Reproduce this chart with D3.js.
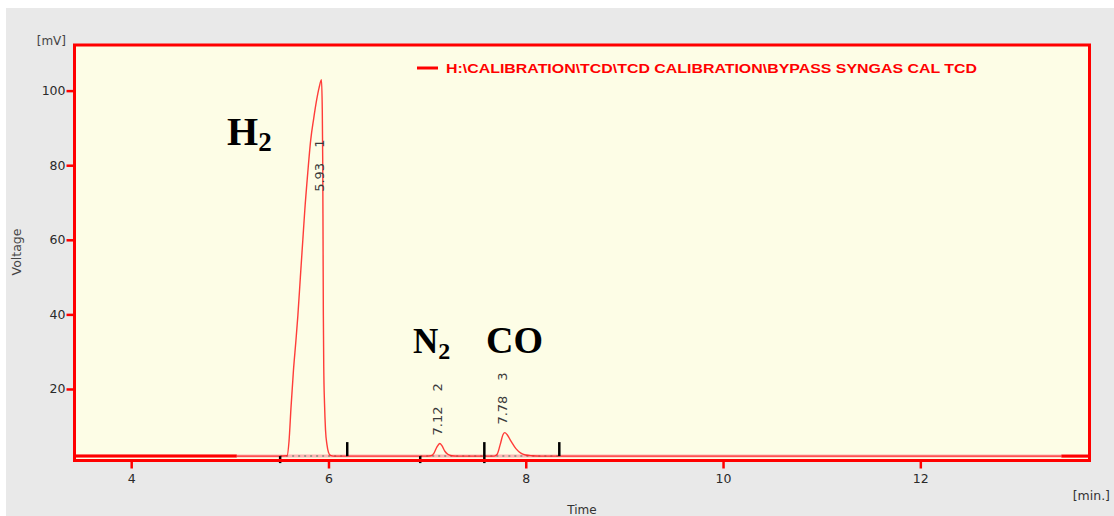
<!DOCTYPE html>
<html>
<head>
<meta charset="utf-8">
<script src="https://cdn.jsdelivr.net/npm/d3@7"></script>
<style>
  body { margin: 0; background: #fff; }
  svg { display: block; }
</style>
</head>
<body>
<div id="chart"></div>
<script>
// axis ticks
const timeTicks = [4, 6, 8, 10, 12];
const voltTicks = [20, 40, 60, 80, 100];

// chromatogram trace (min, mV)
const traceTime = [5.07, 5.5, 5.58, 5.6, 5.62, 5.645, 5.67, 5.69, 5.715, 5.74, 5.76, 5.79, 5.82, 5.85, 5.88, 5.905, 5.929,
  5.937, 5.942, 5.945, 5.948, 5.952, 5.96, 5.97, 5.985, 6.0, 6.02, 6.05, 6.5,
  7.0, 7.04, 7.07, 7.1, 7.129, 7.15, 7.18, 7.21, 7.25, 7.3,
  7.68, 7.71, 7.74, 7.77, 7.788, 7.81, 7.85, 7.9, 7.95, 8.0, 8.06, 8.15, 10, 12, 13.43];
const traceVolt = [2, 2, 2.1, 6, 15, 25, 33, 39.8, 50, 60, 68, 78, 86.8, 92.5, 97.5, 100.8, 102.9,
  95, 80, 60, 40, 26, 16, 9, 5, 3, 2.2, 2, 2,
  2, 2.1, 2.8, 4.5, 5.4, 4.8, 3.3, 2.5, 2.1, 2,
  2, 2.5, 5, 7.8, 8.3, 7.8, 6, 4, 2.8, 2.3, 2.1, 2, 2, 2, 2];

// peak table
const peakNum = [1, 2, 3];
const peakRT = [5.93, 7.12, 7.78];
const peakHeight = [102.9, 5.4, 8.3];
const peakStart = [5.51, 6.93, 7.58];
const peakEnd = [6.19, 7.58, 8.34];
const baseVolt = 2;

// compound names
const compounds = [
  { name: "H", sub: "2" },
  { name: "N", sub: "2" },
  { name: "CO", sub: "" }
];

const legendText = "H:\\CALIBRATION\\TCD\\TCD CALIBRATION\\BYPASS SYNGAS CAL TCD";

const W = 1114, H = 516;
const pLeft = 74.5, pRight = 1089.5, pTop = 45, pBottom = 460.5;

const svg = d3.select("#chart").append("svg")
  .attr("width", W).attr("height", H);

// grey panel
svg.append("rect").attr("x", 6).attr("y", 8).attr("width", W - 6).attr("height", H - 8)
  .attr("fill", "#e9e9e9");

const x = d3.scaleLinear().domain([3.41, 13.71]).range([73, 1089]);
const y = d3.scaleLinear().domain([0.5, 112.5]).range([461.7, 44]);

// plot area
svg.append("rect").attr("x", pLeft).attr("y", pTop)
  .attr("width", pRight - pLeft).attr("height", pBottom - pTop)
  .attr("fill", "#fdfde6");

const font = "'DejaVu Sans', sans-serif";

// axes
const gx = svg.append("g")
  .attr("transform", "translate(0," + pBottom + ")")
  .call(d3.axisBottom(x).tickValues(timeTicks).tickSize(8).tickPadding(6));
const gy = svg.append("g")
  .attr("transform", "translate(" + pLeft + ",0)")
  .call(d3.axisLeft(y).tickValues(voltTicks).tickSize(8).tickPadding(1));
[gx, gy].forEach(g => {
  g.select(".domain").remove();
  g.selectAll(".tick line").attr("stroke", "#f00").attr("stroke-width", 2.5);
  g.selectAll(".tick text").attr("fill", "#2a2a2a")
    .style("font-family", font).style("font-size", "12.5px");
});

// pale baseline band
svg.append("line")
  .attr("x1", pLeft).attr("x2", pRight)
  .attr("y1", y(baseVolt)).attr("y2", y(baseVolt))
  .attr("stroke", "#ffb4b4").attr("stroke-width", 3);

// thick red ends of the baseline
[[3.41, 5.07], [13.43, 13.71]].forEach(seg => {
  svg.append("line")
    .attr("x1", x(seg[0])).attr("x2", x(seg[1]))
    .attr("y1", y(baseVolt)).attr("y2", y(baseVolt))
    .attr("stroke", "#f00").attr("stroke-width", 3);
});

const peaks = peakNum.map((n, i) => ({
  n: n, rt: peakRT[i], h: peakHeight[i], s: peakStart[i], e: peakEnd[i]
}));

// dotted integration baselines
svg.selectAll(".dots").data(peaks).enter().append("line")
  .attr("x1", d => x(d.s)).attr("x2", d => x(d.e))
  .attr("y1", y(baseVolt)).attr("y2", y(baseVolt))
  .attr("stroke", "#8a8a7a").attr("stroke-width", 1.5)
  .attr("stroke-dasharray", "2,4");

// trace
const pts = traceTime.map((t, i) => [t, traceVolt[i]]);
svg.append("path")
  .datum(pts)
  .attr("fill", "none")
  .attr("stroke", "#ff1a1a")
  .attr("stroke-width", 1.4)
  .attr("stroke-opacity", 0.85)
  .attr("d", d3.line().x(d => x(d[0])).y(d => y(d[1])).curve(d3.curveMonotoneX));

// peak start / end markers
svg.selectAll(".mstart").data(peaks).enter().append("line")
  .attr("x1", d => x(d.s)).attr("x2", d => x(d.s))
  .attr("y1", y(baseVolt)).attr("y2", y(baseVolt) + 7)
  .attr("stroke", "#000").attr("stroke-width", 2.5);
svg.selectAll(".mend").data(peaks).enter().append("line")
  .attr("x1", d => x(d.e)).attr("x2", d => x(d.e))
  .attr("y1", y(baseVolt) - 14).attr("y2", y(baseVolt))
  .attr("stroke", "#000").attr("stroke-width", 2.5);

// frame
svg.append("rect").attr("x", pLeft).attr("y", pTop)
  .attr("width", pRight - pLeft).attr("height", pBottom - pTop)
  .attr("fill", "none").attr("stroke", "#f00").attr("stroke-width", 3);

// peak labels (rotated)
const lab = svg.selectAll(".plab").data(peaks).enter().append("text")
  .attr("transform", d => {
    const yy = d.h > 50 ? y(d.h) + 112 : y(d.h) - 8;
    return "translate(" + (x(d.rt) - 2) + "," + yy + ") rotate(-90)";
  })
  .attr("dy", "0.35em")
  .attr("fill", "#3a3a3a")
  .style("font-family", font).style("font-size", "13px");
lab.append("tspan").text(d => d.rt.toFixed(2));
lab.append("tspan").attr("dx", 15).text(d => d.n);

// compound annotations
const annPos = [[227, 145, 40, 27], [413, 353, 35, 24], [486, 353, 38, 24]];
compounds.forEach((c, i) => {
  const t = svg.append("text")
    .attr("x", annPos[i][0]).attr("y", annPos[i][1])
    .attr("fill", "#000")
    .style("font-family", "'Liberation Serif', 'Times New Roman', serif")
    .style("font-weight", "bold")
    .style("font-size", annPos[i][2] + "px");
  t.append("tspan").text(c.name);
  if (c.sub) {
    t.append("tspan").attr("dy", 6).style("font-size", annPos[i][3] + "px").text(c.sub);
  }
});

// legend
svg.append("line").attr("x1", 417).attr("x2", 438).attr("y1", 68).attr("y2", 68)
  .attr("stroke", "#f00").attr("stroke-width", 3);
svg.append("text").attr("x", 446).attr("y", 72.5)
  .attr("fill", "#f00")
  .attr("textLength", 531).attr("lengthAdjust", "spacingAndGlyphs")
  .style("font-family", "'Liberation Sans', Arial, sans-serif")
  .style("font-weight", "bold").style("font-size", "13px")
  .text(legendText);

// axis titles
svg.append("text").attr("x", 66).attr("y", 45).attr("text-anchor", "end")
  .attr("fill", "#444").style("font-family", font).style("font-size", "12px")
  .text("[mV]");
svg.append("text").attr("transform", "translate(21,252) rotate(-90)")
  .attr("text-anchor", "middle").attr("fill", "#444")
  .style("font-family", font).style("font-size", "12.5px")
  .text("Voltage");
svg.append("text").attr("x", 1110).attr("y", 500).attr("text-anchor", "end")
  .attr("fill", "#333").style("font-family", font).style("font-size", "12.5px")
  .text("[min.]");
svg.append("text").attr("x", 582).attr("y", 514).attr("text-anchor", "middle")
  .attr("fill", "#333").style("font-family", font).style("font-size", "12px")
  .text("Time");
</script>
</body>
</html>
